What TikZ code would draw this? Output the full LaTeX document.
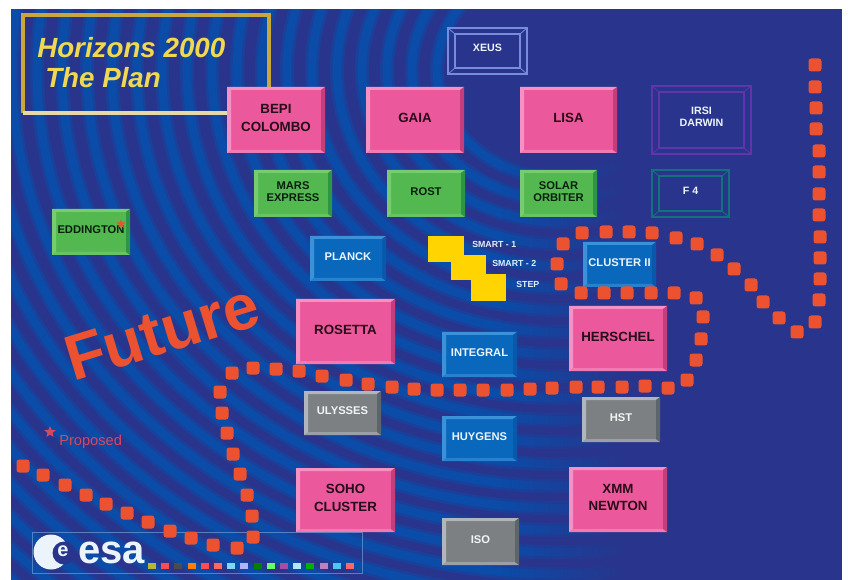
\documentclass[tikz,border=0pt]{standalone}
\usepackage{fontspec}
\setmainfont{Liberation Sans}
\usetikzlibrary{fadings,shapes.geometric}
\definecolor{base}{RGB}{41,53,140}
\definecolor{stripe}{RGB}{10,76,168}
\definecolor{stripeb}{RGB}{26,64,154}
\definecolor{dotc}{RGB}{236,82,48}
\definecolor{pinkF}{RGB}{236,88,156}\definecolor{pinkL}{RGB}{246,145,196}\definecolor{pinkD}{RGB}{196,62,124}
\definecolor{greenF}{RGB}{84,184,80}\definecolor{greenL}{RGB}{118,204,110}\definecolor{greenD}{RGB}{44,150,70}
\definecolor{blueF}{RGB}{10,104,188}\definecolor{blueL}{RGB}{60,146,216}\definecolor{blueD}{RGB}{10,88,172}
\definecolor{grayF}{RGB}{124,128,130}\definecolor{grayL}{RGB}{176,182,190}\definecolor{grayD}{RGB}{92,100,108}
\definecolor{goldc}{RGB}{200,168,60}
\definecolor{titley}{RGB}{240,216,80}
\definecolor{yellowc}{RGB}{255,212,0}
\definecolor{proposedc}{RGB}{214,72,96}
\definecolor{irsic}{RGB}{96,52,170}
\definecolor{fourc}{RGB}{20,112,122}
\definecolor{xeusc}{RGB}{120,140,220}
\newcommand{\sizedfont}[1]{\fontsize{#1}{#1}\selectfont}
\tikzset{
  x=0.75pt,y=-0.75pt,
  pinklabel/.style={font=\bfseries\sizedfont{10}, text=black!80!pinkD, align=center, inner sep=0pt},
  greenlabel/.style={font=\bfseries\sizedfont{8.4}, text=black!80!greenD, align=center, inner sep=0pt},
  bluelabel/.style={font=\bfseries\sizedfont{8.4}, text=white!90!blueL, align=center, inner sep=0pt},
  graylabel/.style={font=\bfseries\sizedfont{8.4}, text=white!85!grayL, align=center, inner sep=0pt},
  outlabel/.style={font=\bfseries\sizedfont{8}, text=white!90!blueL, align=center, inner sep=0pt},
  smartlabel/.style={font=\bfseries\sizedfont{6.6}, text=white!85!blueL, inner sep=0pt, anchor=west},
  orangedot/.style={fill=dotc, rounded corners=2pt},
  yellowblock/.style={fill=yellowc},
}
% name, x1,y1,x2,y2, colour set, label style, text
\newcommand{\bevelbox}[8]{%
  \fill[#6F] (#2,#3) rectangle (#4,#5);
  \fill[#6L!60!#6F] (#2,#5) -- (#4,#5) -- (#4-4,#5-3) -- (#2+4,#5-3) -- cycle;
  \fill[#6L] (#2,#3) -- (#4,#3) -- (#4-4,#3+3) -- (#2+4,#3+3) -- (#2+4,#5-3) -- (#2,#5) -- cycle;
  \fill[#6D] (#4,#5) -- (#4-4,#5-3) -- (#4-4,#3+3) -- (#4,#3) -- cycle;
  \node[#7] (#1) at ({(#2+#4)/2},{(#3+#5)/2-2}) {#8};
}
% name, x1,y1,x2,y2, colour, text
\newcommand{\wirebox}[7]{%
  \draw[#6, line width=0.9pt] (#2,#3) rectangle (#4,#5);
  \draw[#6, line width=0.9pt] (#2+7,#3+6) rectangle (#4-7,#5-6);
  \draw[#6, line width=0.6pt] (#2,#3) -- (#2+7,#3+6) (#4,#3) -- (#4-7,#3+6) (#2,#5) -- (#2+7,#5-6) (#4,#5) -- (#4-7,#5-6);
  \node[outlabel] (#1) at ({(#2+#4)/2},{(#3+#5)/2-3}) {#7};
}
\begin{document}
\begin{tikzpicture}
\useasboundingbox (0,0) rectangle (848,580);
\fill[base] (11,9) rectangle (842,580);
% swirl
\begin{scope}
  \clip (11,9) rectangle (842,580);
  \foreach \r in {123,148,...,1000} {
    \draw[stripeb, line width=10.5pt] (560,70) circle[x radius=\r, y radius=0.88*\r];
    \draw[stripe, line width=6.5pt] (560,70) circle[x radius=\r, y radius=0.88*\r];
  }
  \fill[base, path fading=west] (500,0) rectangle (625,590);
  \fill[base] (625,0) rectangle (850,590);
\end{scope}
% page margins
\fill[white] (0,0) rectangle (848,9);
\fill[white] (0,0) rectangle (11,580);
\fill[white] (842,0) rectangle (848,580);
% title
\draw[goldc, line width=3pt] (23,113) -- (23,15) -- (269,15) -- (269,90);
\draw[white!55!goldc, line width=3pt] (23,113) -- (230,113);
\node[font=\bfseries\itshape\sizedfont{20.8}, text=titley, anchor=base west, inner sep=0pt] (title1) at (37,58) {Horizons 2000};
\node[font=\bfseries\itshape\sizedfont{20.8}, text=titley, anchor=base west, inner sep=0pt] (title2) at (45,88) {The Plan};
% Future
\node[font=\bfseries\sizedfont{48}, text=dotc, rotate=17, inner sep=0pt] (future) at (162,332) {Future};
% proposed
\node[star, star points=5, star point ratio=2.2, fill=proposedc, minimum size=9pt, inner sep=0pt] (star1) at (50,432) {};
\node[font=\sizedfont{11}, text=proposedc, inner sep=0pt, anchor=west] (proposed) at (59,442) {Proposed};
% esa frame
\draw[white!30!stripe, line width=0.7pt] (32,532) rectangle (362,573);
% boxes
\bevelbox{bepi}{227}{87}{325}{153}{pink}{pinklabel}{BEPI\\[3pt]COLOMBO}
\bevelbox{gaia}{366}{87}{464}{153}{pink}{pinklabel}{GAIA}
\bevelbox{lisa}{520}{87}{617}{153}{pink}{pinklabel}{LISA}
\bevelbox{mars}{254}{170}{332}{217}{green}{greenlabel}{MARS\\[1pt]EXPRESS}
\bevelbox{rost}{387}{170}{465}{217}{green}{greenlabel}{ROST}
\bevelbox{solar}{520}{170}{597}{217}{green}{greenlabel}{SOLAR\\[1pt]ORBITER}
\bevelbox{edd}{52}{209}{130}{255}{green}{greenlabel}{EDDINGTON}
\node[star, star points=5, star point ratio=2.2, fill=dotc, minimum size=7pt, inner sep=0pt] (eddstar) at (121,224) {};
\bevelbox{planck}{310}{236}{386}{281}{blue}{bluelabel}{PLANCK}
\bevelbox{cluster}{583}{242}{656}{287}{blue}{bluelabel}{CLUSTER II}
\bevelbox{rosetta}{296}{299}{395}{364}{pink}{pinklabel}{ROSETTA}
\bevelbox{herschel}{569}{306}{667}{371}{pink}{pinklabel}{HERSCHEL}
\bevelbox{integral}{442}{332}{517}{377}{blue}{bluelabel}{INTEGRAL}
\bevelbox{ulysses}{304}{391}{381}{435}{gray}{graylabel}{ULYSSES}
\bevelbox{hst}{582}{397}{660}{442}{gray}{graylabel}{HST}
\bevelbox{huygens}{442}{416}{517}{461}{blue}{bluelabel}{HUYGENS}
\bevelbox{soho}{296}{468}{395}{532}{pink}{pinklabel}{SOHO\\[3pt]CLUSTER}
\bevelbox{xmm}{569}{467}{667}{532}{pink}{pinklabel}{XMM\\[3pt]NEWTON}
\bevelbox{iso}{442}{518}{519}{565}{gray}{graylabel}{ISO}
\wirebox{xeus}{448}{28}{527}{74}{xeusc}{XEUS}
\wirebox{irsi}{652}{86}{751}{154}{irsic}{IRSI\\[1pt]DARWIN}
\wirebox{ffour}{652}{170}{729}{217}{fourc}{F 4}
% yellow steps
\fill[yellowblock] (428,236) rectangle (464,262);
\fill[yellowblock] (451,255) rectangle (486,280);
\fill[yellowblock] (471,274) rectangle (506,301);
\node[smartlabel] (smart1) at (472,244) {SMART - 1};
\node[smartlabel] (smart2) at (492,263) {SMART - 2};
\node[smartlabel] (stepl) at (516,284) {STEP};
% dots
\foreach \x/\y in {815/65,815/87,816/108,816/129,819/151,819/172,819/194,819/215,820/237,820/258,820/279,819/300,815/322,797/332,779/318,763/302,751/285,734/269,717/255,697/244,676/238,652/233,629/232,606/232,582/233,563/244,557/264,561/284,581/293,604/293,627/293,651/293,674/293,696/298,703/317,701/339,696/360,687/380,668/388,645/386,622/387,598/387,576/387,552/388,530/389,507/390,483/390,460/390,437/390,414/389,392/387,368/384,346/380,322/376,299/371,276/369,253/368,232/373,220/392,222/413,227/433,233/454,240/474,247/495,252/516,253/537,237/548,213/545,191/538,170/531,148/522,127/513,106/504,86/495,65/485,43/475,23/466}
  \fill[orangedot] (\x-6.5,\y-6.5) rectangle (\x+6.5,\y+6.5);
% esa logo
\fill[white!90!blueL] (51,552) circle[radius=17.5];
\fill[base] (64,553) circle[radius=11.5];
\node[font=\bfseries\sizedfont{15}, text=white!90!blueL, inner sep=0pt] (esae) at (63,551) {e};
\node[font=\bfseries\sizedfont{30}, text=white!90!blueL, anchor=base west, inner sep=0pt] (esa) at (78,563) {esa};
% flags
\foreach \x/\c in {152/yellow!70!black,165/red!70!white,178/black!70,192/orange,205/red!70!white,218/red!60!white,231/cyan!50!white,244/white!70!blue,258/green!50!black,271/green!60!white,284/violet!70!white,297/cyan!30!white,310/green!70!black,324/violet!50!white,337/cyan!70!white,350/red!60!white}
  \fill[\c] (\x-4,563) rectangle (\x+4,569);
\end{tikzpicture}
\end{document}
